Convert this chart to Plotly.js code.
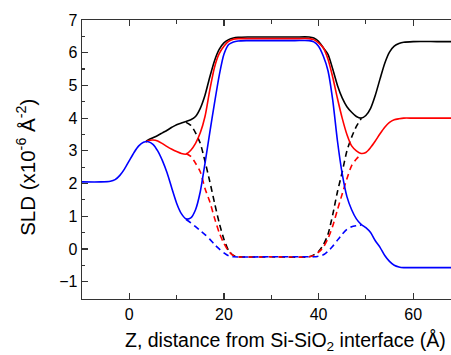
<!DOCTYPE html>
<html><head><meta charset="utf-8">
<script src="https://cdn.plot.ly/plotly-3.0.1.min.js"></script>
<style>html,body{margin:0;padding:0;background:#fff}#chart{width:451px;height:355px}</style>
</head><body><div id="chart"></div>
<script>
// Blue solid
const zBlue = [-10,-6,-4,-3,-2,-1,0,1,2,3,4,5,6,7,8,9,10,11,12,13,14,15,16,17,18,19,20,21,22,23,25,30,35,38,39,40,41,42,43,44,45,46,47,48,49,50,51,52,53,54,55,56,57,58,60,65,68];
const sldBlue = [2.05,2.05,2.07,2.12,2.25,2.45,2.7,2.95,3.15,3.26,3.28,3.2,3.0,2.7,2.32,1.85,1.4,1.08,0.92,0.95,1.2,1.75,2.62,3.55,4.45,5.3,5.95,6.25,6.33,6.36,6.37,6.37,6.37,6.37,6.33,6.2,5.9,5.45,4.55,3.3,2.3,1.6,1.2,0.92,0.75,0.65,0.5,0.25,0.05,-0.2,-0.38,-0.5,-0.55,-0.57,-0.57,-0.57,-0.57];
// Red solid
const zRed = [3.5,4,5,6,7,8,9,10,11,12,13,14,15,16,17,18,19,20,21,22,23,25,30,35,38,39,40,41,42,43,44,45,46,47,48,49,50,51,52,53,54,55,56,57,58,60,65,68];
const sldRed = [3.27,3.31,3.33,3.3,3.22,3.13,3.05,2.98,2.92,2.9,3.02,3.23,3.55,4.05,4.85,5.55,5.97,6.2,6.35,6.41,6.43,6.43,6.43,6.43,6.43,6.4,6.3,6.15,5.8,5.25,4.6,4.0,3.5,3.15,3.0,2.92,2.95,3.1,3.3,3.52,3.72,3.87,3.95,3.98,4.0,4.0,4.0,4.0];
// Black solid
const zBlack = [3.5,4,5,6,7,8,9,10,11,12,13,14,15,16,17,18,19,20,21,22,23,25,30,35,38,39,40,41,42,43,44,45,46,47,48,49,50,51,52,53,54,55,56,57,58,60,65,68];
const sldBlack = [3.28,3.33,3.4,3.47,3.55,3.63,3.72,3.8,3.85,3.9,3.95,4.05,4.3,4.7,5.25,5.75,6.1,6.3,6.4,6.45,6.47,6.48,6.48,6.48,6.48,6.45,6.35,6.15,5.95,5.5,5.0,4.62,4.35,4.18,4.05,4.0,4.08,4.3,4.7,5.2,5.68,6.02,6.2,6.28,6.32,6.34,6.34,6.34];
// Dashed (continuations)
const zBlackDash = [12,13,14,15,16,17,18,19,20,21,22,23,30,38,39,40,41,42,43,44,45,46,47,48,49];
const sldBlackDash = [3.87,3.78,3.55,3.23,2.68,2.07,1.42,0.8,0.3,-0.05,-0.2,-0.24,-0.24,-0.24,-0.18,-0.08,0.12,0.45,1.05,1.75,2.35,3.0,3.42,3.75,3.98];
const zRedDash = [12,13,14,15,16,17,18,19,20,21,22,23,30,38,39,40,41,42,43,44,45,46,47,48,49];
const sldRedDash = [2.92,2.83,2.62,2.36,1.85,1.45,0.95,0.5,0.17,-0.07,-0.2,-0.24,-0.24,-0.24,-0.2,-0.1,0.05,0.32,0.7,1.2,1.68,2.15,2.55,2.75,2.9];
const zBlueDash = [12,13,14,15,16,17,18,19,20,21,22,30,38,39,40,41,42,43,44,45,46,47,48,49];
const sldBlueDash = [0.9,0.8,0.68,0.56,0.44,0.3,0.14,0.0,-0.12,-0.21,-0.24,-0.24,-0.24,-0.24,-0.22,-0.18,-0.07,0.08,0.27,0.45,0.6,0.68,0.71,0.73];

const xTickVals = [0,20,40,60];
const yTickVals = [-1,0,1,2,3,4,5,6,7];

const dashStyle = '6px,4px';
function tr(x, y, color, dash) {
  return {x: x, y: y, type: 'scatter', mode: 'lines', hoverinfo: 'skip',
    line: {color: color, width: 1.6, dash: dash, shape: 'spline', smoothing: 0.7}};
}
const data = [
  tr(zBlackDash, sldBlackDash, '#000000', dashStyle),
  tr(zRedDash, sldRedDash, '#ff0000', dashStyle),
  tr(zBlueDash, sldBlueDash, '#0000ff', dashStyle),
  tr(zBlack, sldBlack, '#000000', 'solid'),
  tr(zRed, sldRed, '#ff0000', 'solid'),
  tr(zBlue, sldBlue, '#0000ff', 'solid')
];
const font = {family: 'Liberation Sans, Arial, sans-serif', color: '#000'};
const layout = {
  width: 451, height: 355, showlegend: false,
  paper_bgcolor: '#fff', plot_bgcolor: '#fff',
  margin: {l: 82, r: 0, t: 20, b: 56},
  font: Object.assign({size: 16}, font),
  xaxis: {range: [-10, 68], tickvals: xTickVals, ticks: 'inside', ticklen: 6, tickwidth: 1.2,
    tickcolor: '#333', showline: true, linecolor: '#333', linewidth: 1.3, mirror: 'ticks',
    showgrid: false, zeroline: false, tickfont: Object.assign({size: 16}, font),
    minor: {ticks: 'inside', dtick: 10, tick0: 0, ticklen: 4, tickcolor: '#333', showgrid: false}},
  yaxis: {range: [-1.53, 7], tickvals: yTickVals, ticks: 'inside', ticklen: 6, tickwidth: 1.2,
    tickcolor: '#333', showline: true, linecolor: '#333', linewidth: 1.3, mirror: false,
    showgrid: false, zeroline: false, tickfont: Object.assign({size: 16}, font),
    minor: {ticks: 'inside', dtick: 0.5, tick0: 0, ticklen: 3, tickcolor: '#333', showgrid: false}},
  annotations: [
    {text: 'Z, distance from Si-SiO<sub>2</sub> interface (Å)', xref: 'paper', yref: 'paper',
     x: 0.551, y: 0, yshift: -42, xanchor: 'center', yanchor: 'middle', showarrow: false,
     font: Object.assign({size: 19.5}, font)},
    {text: 'SLD (x10<sup>-6</sup> Å<sup>-2</sup>)', xref: 'paper', yref: 'paper',
     x: 0, xshift: -56, y: 0.47, xanchor: 'center', yanchor: 'middle', textangle: -90, showarrow: false,
     font: Object.assign({size: 20.5}, font)}
  ]
};
Plotly.newPlot('chart', data, layout, {displayModeBar: false, staticPlot: true});
</script></body></html>
